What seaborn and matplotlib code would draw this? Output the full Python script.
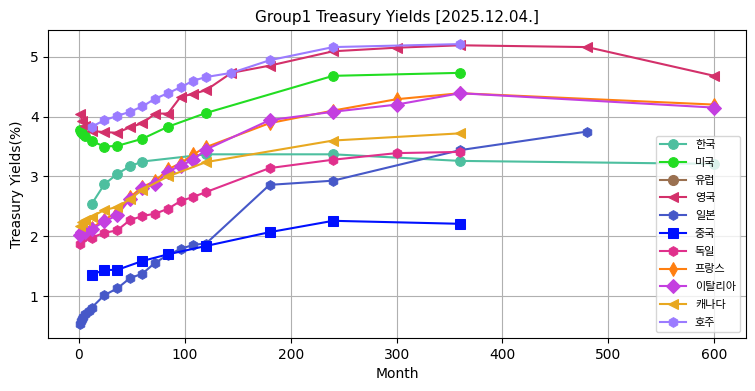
import numpy as np
import pandas as pd
import matplotlib
matplotlib.use("Agg")
import matplotlib.pyplot as plt
import seaborn as sns

plt.rcParams['font.family'] = ['DejaVu Sans', 'Noto Sans CJK KR']

# maturities (months) and yields (%) per country
kr_m = [12, 24, 36, 48, 60, 120, 240, 360, 600]
kr_y = [2.54, 2.87, 3.04, 3.17, 3.25, 3.37, 3.37, 3.26, 3.21]

us_m = [1, 2, 3, 4, 6, 12, 24, 36, 60, 84, 120, 240, 360]
us_y = [3.77, 3.75, 3.73, 3.71, 3.68, 3.59, 3.50, 3.51, 3.63, 3.83, 4.06, 4.68, 4.73]

eu_m = []
eu_y = []

uk_m = [1, 3, 6, 12, 24, 36, 48, 60, 72, 84, 96, 108, 120, 144, 180, 240, 300, 360, 480, 600]
uk_y = [4.04, 3.93, 3.84, 3.76, 3.74, 3.73, 3.82, 3.89, 4.05, 4.05, 4.33, 4.38, 4.44,
        4.73, 4.85, 5.09, 5.15, 5.19, 5.16, 4.68]

jp_m = [1, 2, 3, 4, 6, 9, 12, 24, 36, 48, 60, 72, 84, 96, 108, 120, 180, 240, 360, 480]
jp_y = [0.54, 0.58, 0.62, 0.65, 0.70, 0.76, 0.81, 1.02, 1.13, 1.30, 1.38, 1.56, 1.69,
        1.79, 1.86, 1.88, 2.86, 2.93, 3.44, 3.75]

cn_m = [12, 24, 36, 60, 84, 120, 180, 240, 360]
cn_y = [1.36, 1.44, 1.44, 1.59, 1.70, 1.84, 2.07, 2.26, 2.21]

de_m = [1, 3, 6, 12, 24, 36, 48, 60, 72, 84, 96, 108, 120, 180, 240, 300, 360]
de_y = [1.87, 1.97, 2.00, 1.98, 2.06, 2.10, 2.27, 2.34, 2.38, 2.46, 2.59, 2.66, 2.74,
        3.14, 3.28, 3.39, 3.41]

fr_m = [1, 3, 6, 12, 24, 36, 48, 60, 72, 84, 96, 108, 120, 180, 240, 300, 360, 600]
fr_y = [2.05, 2.08, 2.10, 2.14, 2.28, 2.40, 2.65, 2.83, 2.92, 3.12, 3.22, 3.37, 3.49,
        3.89, 4.10, 4.29, 4.39, 4.20]

it_m = [1, 3, 6, 12, 24, 36, 48, 60, 72, 84, 96, 108, 120, 180, 240, 300, 360, 600]
it_y = [2.03, 2.07, 2.08, 2.12, 2.25, 2.35, 2.62, 2.80, 2.87, 3.08, 3.18, 3.28, 3.45,
        3.94, 4.08, 4.20, 4.39, 4.15]

ca_m = [1, 3, 6, 12, 24, 36, 48, 60, 84, 120, 240, 360]
ca_y = [2.18, 2.24, 2.28, 2.33, 2.44, 2.49, 2.62, 2.78, 3.00, 3.24, 3.60, 3.72]

au_m = [12, 24, 36, 48, 60, 72, 84, 96, 108, 120, 144, 180, 240, 360]
au_y = [3.83, 3.94, 4.01, 4.08, 4.17, 4.30, 4.39, 4.49, 4.60, 4.66, 4.73, 4.94, 5.16, 5.21]

series = [
    ('한국', kr_m, kr_y, '#4dbf9f', 'o'),
    ('미국', us_m, us_y, '#22dd22', 'o'),
    ('유럽', eu_m, eu_y, '#9a7050', 'o'),
    ('영국', uk_m, uk_y, '#d3306a', '<'),
    ('일본', jp_m, jp_y, '#4658c8', 'h'),
    ('중국', cn_m, cn_y, '#0010ff', 's'),
    ('독일', de_m, de_y, '#e0308c', 'h'),
    ('프랑스', fr_m, fr_y, '#ff7f10', 'd'),
    ('이탈리아', it_m, it_y, '#c43fe0', 'D'),
    ('캐나다', ca_m, ca_y, '#e8a820', '<'),
    ('호주', au_m, au_y, '#9b7bff', 'h'),
]

fig, ax = plt.subplots(figsize=(7.55, 3.91), dpi=100)

for name, m, y, color, mk in series:
    if len(m) == 0:
        ax.plot([], [], color=color, marker=mk, markersize=7, label=name)
        continue
    df = pd.DataFrame({'Month': m, 'Yield': y})
    sns.lineplot(data=df, x='Month', y='Yield', ax=ax, color=color, marker=mk,
                 markersize=7, markeredgecolor=color, linewidth=1.5, label=name)

ax.grid(True)
ax.set_title('Group1 Treasury Yields [2025.12.04.]', fontsize=11)
ax.set_xlabel('Month')
ax.set_ylabel('Treasury Yields(%)')
ax.legend(loc='lower right', prop={'family': 'Noto Sans CJK KR', 'size': 8},
          labelspacing=0.7, handlelength=2.3)

fig.subplots_adjust(left=0.064, right=0.988, top=0.923, bottom=0.136)
fig.savefig('out.png', dpi=100)
